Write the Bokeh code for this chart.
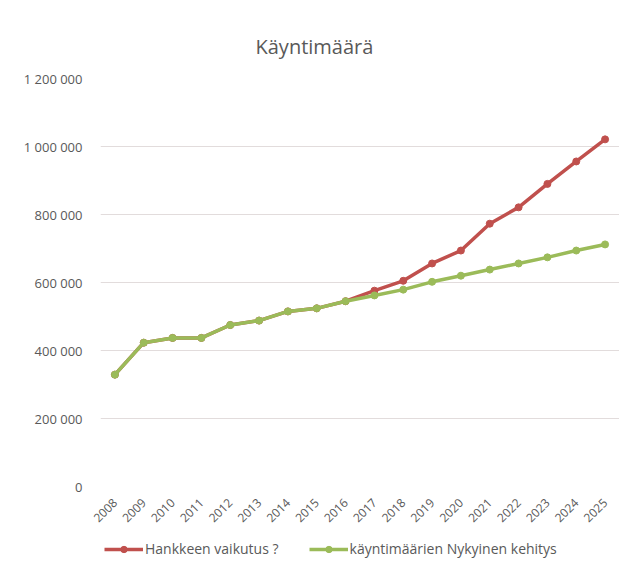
from bokeh.plotting import figure
from bokeh.models import FixedTicker, Legend, LegendItem, Title
from bokeh.layouts import column
from bokeh.embed import file_html
from bokeh.resources import INLINE
import math

years = [str(y) for y in range(2008, 2026)]
hanke = [329000, 423000, 437000, 437000, 475000, 488000, 515000, 524000, 545000,
         576000, 605000, 656000, 694000, 773000, 821000, 890000, 956000, 1021000]
nykyinen = [329000, 423000, 437000, 437000, 475000, 488000, 515000, 524000, 545000,
            562000, 579000, 602000, 620000, 638000, 656000, 674000, 694000, 712000]
y_ticks = [0, 200000, 400000, 600000, 800000, 1000000, 1200000]
y_tick_labels = ["0", "200 000", "400 000", "600 000", "800 000", "1 000 000", "1 200 000"]
title_text = "Käyntimäärä"
labels = ["Hankkeen vaikutus ?", "käyntimäärien Nykyinen kehitys"]

RED = "#c0504d"
GREEN = "#9bbb59"
TXT = "#595959"
FONT = "Open Sans"

p = figure(x_range=years, y_range=(0, 1200000), width=619, height=530,
           output_backend="svg", toolbar_location=None,
           min_border_left=100, min_border_right=0, min_border_top=78, min_border_bottom=44)
p.title = Title(text=title_text, align="left", offset=155, standoff=38, text_font=FONT,
                text_font_size="20px", text_font_style="normal", text_color=TXT)
p.outline_line_color = None
p.background_fill_color = "white"
p.border_fill_color = "white"

p.line(years, hanke, line_color=RED, line_width=3.5)
p.scatter(years, hanke, size=7, fill_color=RED, line_color=RED)
p.line(years, nykyinen, line_color=GREEN, line_width=3.5)
p.scatter(years, nykyinen, size=7, fill_color=GREEN, line_color=GREEN)

p.xgrid.grid_line_color = None
p.ygrid.grid_line_color = "#e2dcdc"
p.ygrid.grid_line_width = 1

p.yaxis.ticker = FixedTicker(ticks=y_ticks)
p.yaxis.major_label_overrides = dict(zip(y_ticks, y_tick_labels))
for ax in (p.xaxis, p.yaxis):
    ax.axis_line_color = None
    ax.major_tick_line_color = None
    ax.minor_tick_line_color = None
    ax.major_label_text_font = FONT
    ax.major_label_text_color = TXT
p.yaxis.major_label_text_font_size = "13px"
p.yaxis.major_label_standoff = 12
p.xaxis.major_label_orientation = math.pi / 4
p.xaxis.major_label_standoff = 8
p.xaxis.major_label_text_font_size = "12px"

# legend strip below the chart
q = figure(x_range=years, y_range=(0, 1), width=619, height=37,
           output_backend="svg", toolbar_location=None,
           min_border_left=0, min_border_right=0, min_border_top=0, min_border_bottom=0)
q.axis.visible = False
q.grid.grid_line_color = None
q.outline_line_color = None
q.background_fill_color = "white"
q.border_fill_color = "white"
l1 = q.line(years, hanke, line_color=RED, line_width=3.5)
m1 = q.scatter(years, hanke, size=7, fill_color=RED, line_color=RED)
l2 = q.line(years, nykyinen, line_color=GREEN, line_width=3.5)
m2 = q.scatter(years, nykyinen, size=7, fill_color=GREEN, line_color=GREEN)

legend = Legend(items=[LegendItem(label=labels[0], renderers=[l1, m1]),
                       LegendItem(label=labels[1], renderers=[l2, m2])],
                orientation="horizontal", location=(4, 9),
                label_text_font=FONT, label_text_font_size="14px", label_text_color=TXT,
                glyph_width=39, glyph_height=16, label_standoff=2, spacing=30,
                padding=0, margin=0, border_line_color=None, background_fill_alpha=0)
q.add_layout(legend, "center")

layout = column(p, q, spacing=0)
open("out.html", "w").write(file_html(layout, INLINE))
